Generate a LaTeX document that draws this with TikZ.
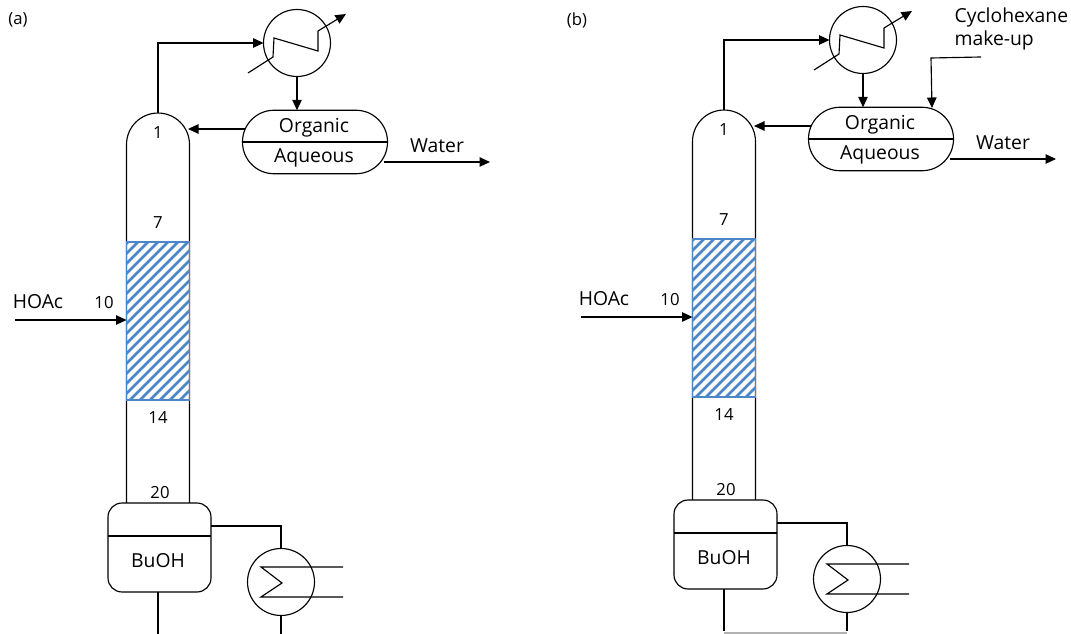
\documentclass[tikz,border=0pt]{standalone}
\usepackage{fontspec}
\setmainfont{Open Sans}
\usetikzlibrary{arrows.meta}
\definecolor{hatchblue}{HTML}{4A86C8}
\tikzset{
  unit/.style={draw,outer sep=0pt,inner sep=0pt},
  exch/.style={unit,circle,minimum size=1.34cm},
  arr/.style={-{Triangle[length=.21cm,width=.19cm]}},
  lab/.style={font=\fontsize{11}{13}\selectfont,inner sep=0pt},
  tray/.style={font=\fontsize{9.5}{11}\selectfont,inner sep=0pt}
}
\begin{document}
\begin{tikzpicture}[x=.02cm,y=-.02cm,line width=.65pt]
\useasboundingbox (0,0) rectangle (1071,634);

\node[tray] (taga) at (18,20) {(a)};
\node[tray] (tagb) at (577,20) {(b)};

\foreach \p/\dx/\dy in {a/0/0,b/566/-3}
{
\begin{scope}[shift={(\dx,\dy)}]
% column
\node[outer sep=0pt,minimum width=1.26cm,minimum height=7.8cm] (col\p) at (158,308) {};
\draw[rounded corners=.63cm] (col\p.south west) -- (col\p.north west) -- (col\p.north east) -- (col\p.south east);
\begin{scope}
\clip (126.5,242) rectangle (189.5,400);
\foreach \y in {230,240,...,520}
{\draw[hatchblue,line width=1.6pt] (110,\y) -- (210,\y-100);}
\end{scope}
\draw[hatchblue,line width=.6pt] (126.5,242) rectangle (189.5,400);
% condenser
\node[exch] (cond\p) at (297,43) {};
\draw (248,73) -- (273,57) -- (274,38) -- (318,51) -- (318,31);
\draw[arr] (318,31) -- (346,14);
% decanter
\node[unit,minimum width=2.9cm,minimum height=1.27cm,rounded corners=.63cm] (dec\p) at (315,142) {};
\draw (dec\p.west) -- (dec\p.east);
\node[lab] (org\p) at (314,128) {Organic};
\node[lab] (aq\p) at (314,158) {Aqueous};
% reboiler drum and exchanger
\node[unit,minimum width=2.06cm,minimum height=1.78cm,rounded corners=.28cm] (sump\p) at (159.5,547.5) {};
\draw (sump\p.west |- 0,536) -- (sump\p.east |- 0,536);
\node[lab] (buoh\p) at (158,561) {BuOH};
\node[exch] (reb\p) at (281,582) {};
\draw (343,567) -- (261,567) -- (282,583) -- (261,597) -- (343,597);
\coordinate (outa\p) at (158,634);
\coordinate (outb\p) at (281,634);
\coordinate (tap\p) at (211,526);
\coordinate (refl\p) at (245,129);
\coordinate (wata\p) at (384,162);
\coordinate (watb\p) at (490,162);
\coordinate (feed\p) at (15,320);
% streams
\draw[arr] (col\p.north) |- (cond\p.west);
\draw[arr] (cond\p.south) -- (cond\p |- dec\p.north);
\draw[arr] (refl\p) -- (188,129);
\draw[arr] (wata\p) -- (watb\p);
\draw[arr] (feed\p) -- (col\p.west |- feed\p);
\draw (tap\p) -| (reb\p.north);
\draw (reb\p.south) -- (outb\p);
\draw (outa\p |- sump\p.south) -- (outa\p);
% labels
\node[lab] (wl\p) at (437,146) {Water};
\node[lab] (hoac\p) at (38,302) {HOAc};
\node[tray] (n1\p) at (158,133) {1};
\node[tray] (n7\p) at (158,223) {7};
\node[tray] (n10\p) at (104,303) {10};
\node[tray] (n14\p) at (158,418) {14};
\node[tray] (n20\p) at (160,493) {20};
\end{scope}
}

% only in (b)
\coordinate (mk) at (981,57);
\draw[arr] (mk) -- (931,58) -- (932,108);
\node[lab,anchor=west] (cyc) at (954,17) {Cyclohexane};
\node[lab,anchor=west] (mku) at (954,40) {make-up};
\draw[black!30] (outab |- 0,633) -- (outbb |- 0,633);

\end{tikzpicture}
\end{document}
